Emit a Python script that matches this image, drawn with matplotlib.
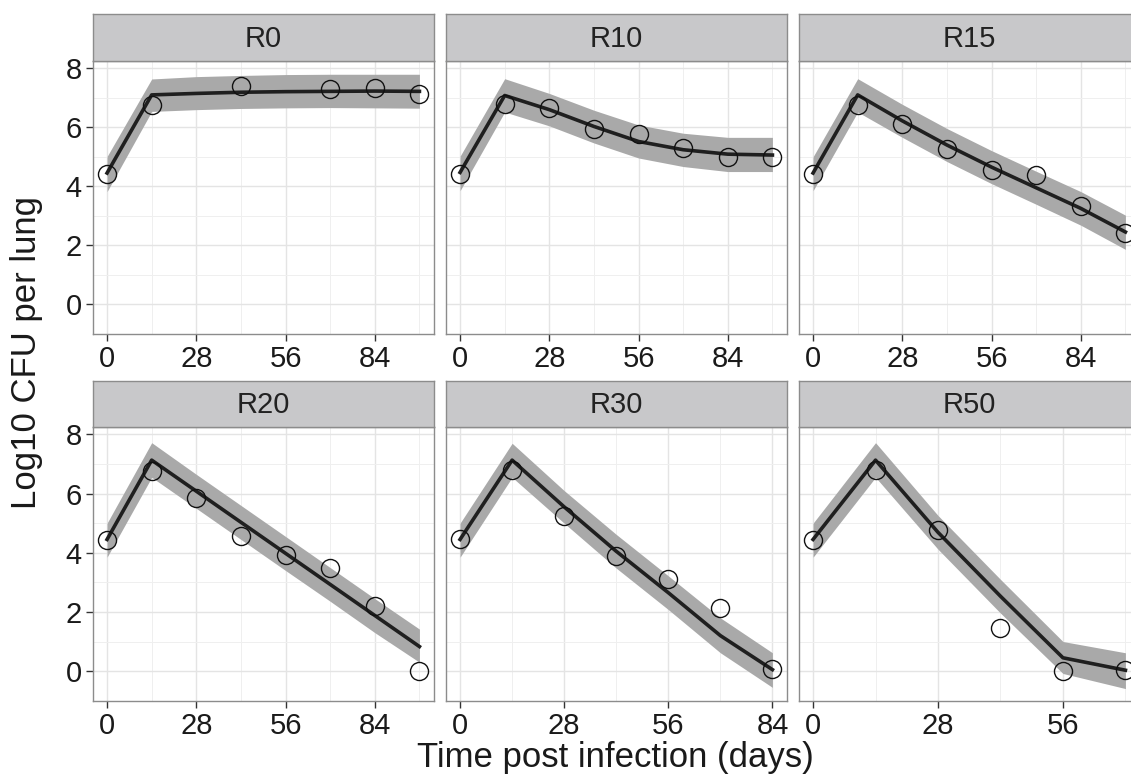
import matplotlib
matplotlib.use("Agg")
import matplotlib.pyplot as plt
from matplotlib.ticker import MultipleLocator

plt.rcParams['font.family'] = ['Liberation Sans', 'DejaVu Sans']

# observed data (log10 CFU per lung)
panels = ["R0", "R10", "R15", "R20", "R30", "R50"]

obs_days = {
    "R0": [0, 14, 42, 70, 84, 98],
    "R10": [0, 14, 28, 42, 56, 70, 84, 98],
    "R15": [0, 14, 28, 42, 56, 70, 84, 98],
    "R20": [0, 14, 28, 42, 56, 70, 84, 98],
    "R30": [0, 14, 28, 42, 56, 70, 84],
    "R50": [0, 14, 28, 42, 56, 70],
}
obs_cfu = {
    "R0": [4.42, 6.76, 7.41, 7.30, 7.33, 7.12],
    "R10": [4.42, 6.80, 6.67, 5.94, 5.76, 5.31, 4.99, 5.01],
    "R15": [4.42, 6.76, 6.10, 5.28, 4.56, 4.40, 3.33, 2.40],
    "R20": [4.44, 6.77, 5.84, 4.55, 3.94, 3.48, 2.21, 0.01],
    "R30": [4.46, 6.79, 5.25, 3.89, 3.12, 2.12, 0.06],
    "R50": [4.44, 6.79, 4.77, 1.46, 0.01, 0.03],
}

# model prediction and band
fit_days = {
    "R0": [0, 14, 28, 42, 56, 70, 84, 98],
    "R10": [0, 14, 28, 42, 56, 70, 84, 98],
    "R15": [0, 14, 28, 42, 56, 70, 84, 98],
    "R20": [0, 14, 28, 42, 56, 70, 84, 98],
    "R30": [0, 14, 28, 42, 56, 70, 84],
    "R50": [0, 14, 28, 42, 56, 70],
}
fit_cfu = {
    "R0": [4.45, 7.10, 7.15, 7.19, 7.21, 7.22, 7.23, 7.22],
    "R10": [4.47, 7.08, 6.60, 6.03, 5.52, 5.24, 5.09, 5.06],
    "R15": [4.45, 7.10, 6.22, 5.40, 4.65, 3.95, 3.25, 2.45],
    "R20": [4.45, 7.13, 6.08, 5.03, 3.98, 2.93, 1.88, 0.83],
    "R30": [4.45, 7.13, 5.55, 4.05, 2.65, 1.20, 0.05],
    "R50": [4.45, 7.13, 4.69, 2.53, 0.45, 0.03],
}
fit_low = {
    "R0": [3.82, 6.54, 6.60, 6.64, 6.66, 6.67, 6.66, 6.65],
    "R10": [3.85, 6.52, 6.05, 5.47, 4.96, 4.67, 4.50, 4.50],
    "R15": [3.85, 6.52, 5.66, 4.84, 4.09, 3.39, 2.68, 1.86],
    "R20": [3.85, 6.55, 5.50, 4.45, 3.40, 2.36, 1.30, 0.30],
    "R30": [3.85, 6.55, 5.00, 3.48, 2.08, 0.62, -0.55],
    "R50": [3.85, 6.55, 4.12, 1.96, -0.08, -0.59],
}
fit_high = {
    "R0": [5.01, 7.64, 7.72, 7.76, 7.79, 7.80, 7.80, 7.80],
    "R10": [5.02, 7.65, 7.15, 6.58, 6.08, 5.80, 5.66, 5.66],
    "R15": [5.00, 7.65, 6.78, 5.96, 5.21, 4.51, 3.82, 3.02],
    "R20": [5.00, 7.72, 6.65, 5.60, 4.55, 3.50, 2.45, 1.42],
    "R30": [5.00, 7.70, 6.10, 4.62, 3.22, 1.80, 0.62],
    "R50": [5.00, 7.72, 5.26, 3.10, 1.00, 0.62],
}

W, H = 1131, 779
fig = plt.figure(figsize=(W / 100, H / 100), dpi=100)

col_x = [93, 446, 799]
pw = 340.5
row_y = [(14, 61, 334), (381, 427, 701)]  # strip top, panel top, panel bottom

for i, name in enumerate(panels):
    r, c = divmod(i, 3)
    st, pt, pb = row_y[r]
    x0 = col_x[c]
    ax = fig.add_axes([x0 / W, 1 - pb / H, pw / W, (pb - pt) / H])
    sax = fig.add_axes([x0 / W, 1 - pt / H, pw / W, (pt - st) / H])

    # strip
    sax.set_facecolor("#c8c8ca")
    sax.set_xticks([])
    sax.set_yticks([])
    for s in sax.spines.values():
        s.set_color("#8c8c8c")
        s.set_linewidth(1.0)
    sax.text(0.5, 0.47, name, ha="center", va="center", fontsize=21,
             color="#222222", transform=sax.transAxes)

    xd = fit_days[name]
    xmax = max(xd)
    pad = xmax * 0.045
    ax.set_xlim(-pad, xmax + pad)
    ax.set_ylim(-1.01, 8.25)

    ax.fill_between(xd, fit_low[name], fit_high[name], color="#a9a9a9",
                    linewidth=0, zorder=2)
    ax.plot(xd, fit_cfu[name], color="#1f1f1f", lw=2.6, zorder=3)
    ax.plot(obs_days[name], obs_cfu[name], "o", ms=13, mfc="none",
            mec="#111111", mew=1.0, zorder=4, clip_on=False)

    ax.xaxis.set_major_locator(MultipleLocator(28))
    ax.xaxis.set_minor_locator(MultipleLocator(14))
    ax.yaxis.set_major_locator(MultipleLocator(2))
    ax.yaxis.set_minor_locator(MultipleLocator(1))
    ax.grid(which="major", color="#e4e4e4", lw=1.0, zorder=0)
    ax.grid(which="minor", color="#efefef", lw=0.7, zorder=0)
    ax.set_axisbelow(True)

    for s in ax.spines.values():
        s.set_color("#8c8c8c")
        s.set_linewidth(1.0)
    ax.tick_params(which="major", length=5, width=1, color="#333333",
                   labelsize=21, labelcolor="#1a1a1a", pad=3)
    ax.tick_params(which="minor", length=0)
    if c != 0:
        ax.tick_params(axis="y", labelleft=False, length=0)

fig.text(615 / W, 1 - 757 / H, "Time post infection (days)", ha="center",
         va="center", fontsize=25, color="#1a1a1a")
fig.text(27 / W, 1 - 352 / H, "Log10 CFU per lung", ha="center",
         va="center", rotation=90, fontsize=25, color="#1a1a1a")

fig.savefig("out.png", dpi=100)
